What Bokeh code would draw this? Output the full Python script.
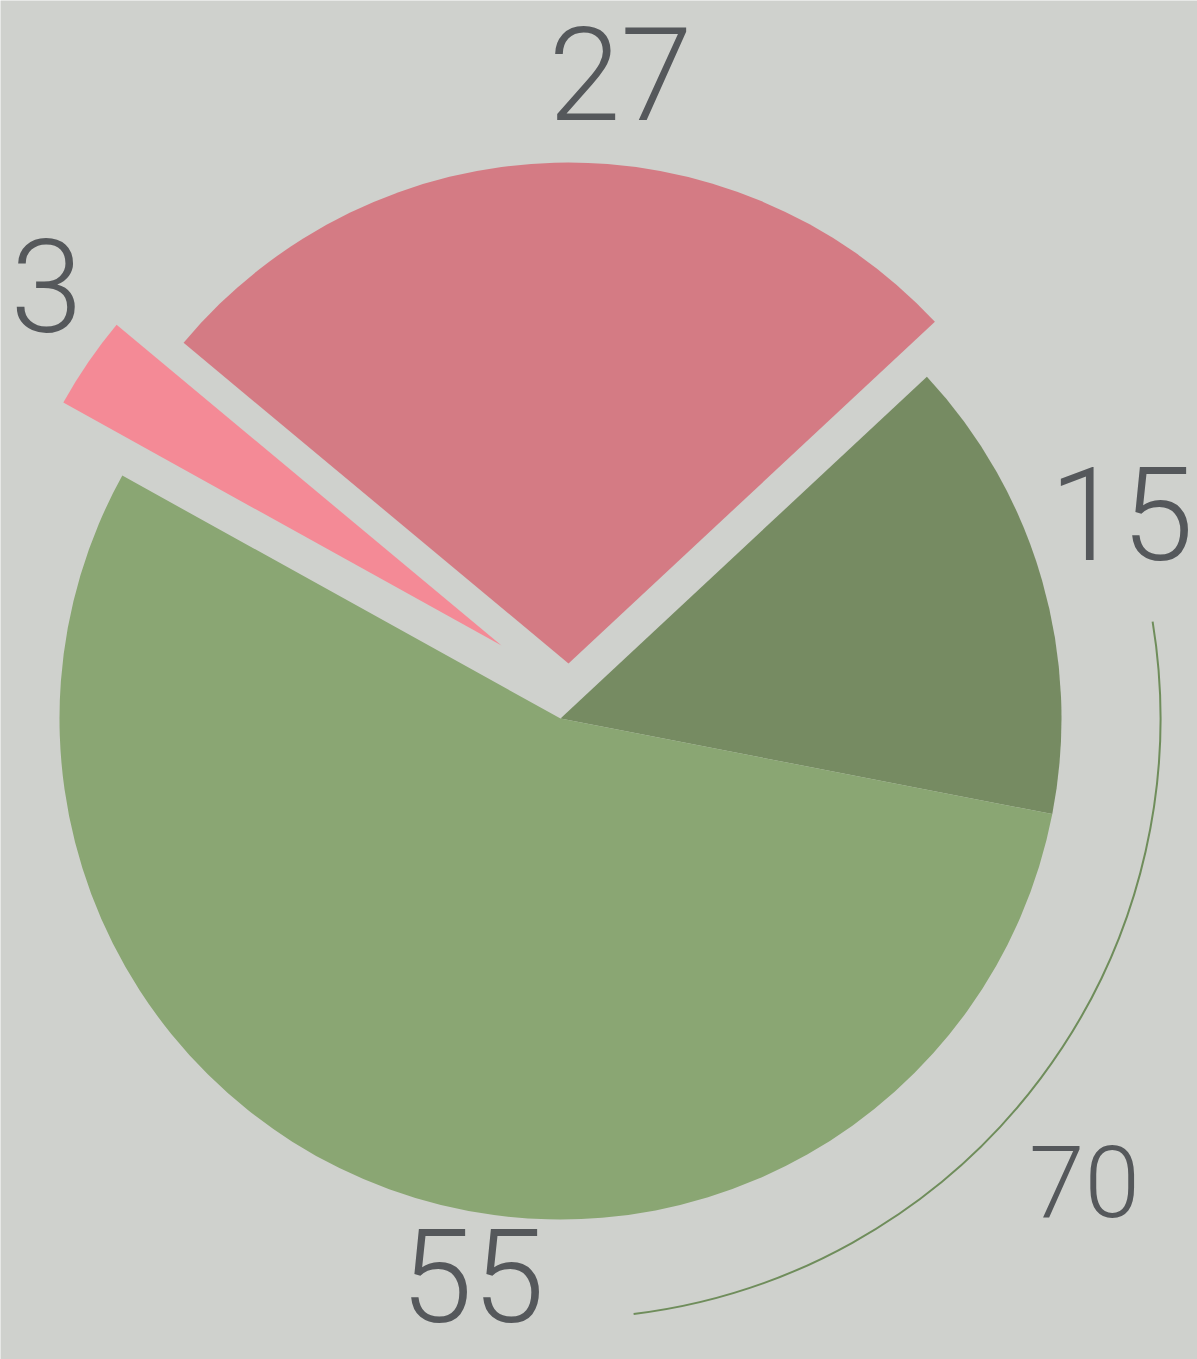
import math
from bokeh.plotting import figure
from bokeh.models import Range1d, ColumnDataSource
from bokeh.core.properties import value
from bokeh.embed import file_html
from bokeh.resources import INLINE

# ---- data ----
categories = ["B", "A", "A-small", "C"]
values = [15, 27, 3, 55]
slice_labels = ["15", "27", "3", "55"]
arc_label = "70"   # 15 + 55

# ---- style ----
W, H = 1197, 1359
colors = ["#768b62", "#d47b84", "#f48a96", "#8aa673"]
explode = [(0, 0), (8, 55), (-59, 73), (0, 0)]    # px offsets of slices
big, small = 130, 100
shift_big, shift_small = 0.378 * big, 0.378 * small   # baseline correction
label_pos = [(1121, H - 562 + shift_big), (620, H - 122 + shift_big),
             (46, H - 334 + shift_big), (472, H - 1324 + shift_big)]
arc_label_pos = (1084, H - 1218 + shift_small)
start_deg = -11.0
cx, cy = 560, H - 718
R = 501
bg = "#cfd1cd"
text_color = "#55585b"
font = value("Roboto Light")

p = figure(width=W, height=H, output_backend="svg", toolbar_location=None,
           x_range=Range1d(0, W), y_range=Range1d(0, H),
           min_border=0, background_fill_color=bg, border_fill_color=bg)
p.axis.visible = False
p.grid.visible = False
p.outline_line_color = None

total = sum(values)
xs, ys, a0s, a1s = [], [], [], []
cum = 0.0
for v, (dx, dy) in zip(values, explode):
    a0 = math.radians(start_deg) + cum / total * 2 * math.pi
    cum += v
    a1 = math.radians(start_deg) + cum / total * 2 * math.pi
    xs.append(cx + dx)
    ys.append(cy + dy)
    a0s.append(a0)
    a1s.append(a1)

src = ColumnDataSource(dict(x=xs, y=ys, a0=a0s, a1=a1s, color=colors, cat=categories))
p.wedge(x="x", y="y", radius=R, start_angle="a0", end_angle="a1",
        direction="anticlock", fill_color="color", line_color=None, source=src)

# bracket arc for the combined green share
p.arc(x=[cx], y=[cy], radius=600, start_angle=math.radians(-83.0),
      end_angle=math.radians(9.3), direction="anticlock",
      line_color="#6f8d5b", line_width=2)

lsrc = ColumnDataSource(dict(x=[q[0] for q in label_pos], y=[q[1] for q in label_pos],
                             t=slice_labels))
p.text(x="x", y="y", text="t", source=lsrc, text_font=font, text_font_size=f"{big}px",
       text_color=text_color, text_align="center", text_baseline="alphabetic")
p.text(x=[arc_label_pos[0]], y=[arc_label_pos[1]], text=[arc_label], text_font=font,
       text_font_size=f"{small}px", text_color=text_color, text_align="center",
       text_baseline="alphabetic")

open("out.html", "w").write(file_html(p, INLINE))
